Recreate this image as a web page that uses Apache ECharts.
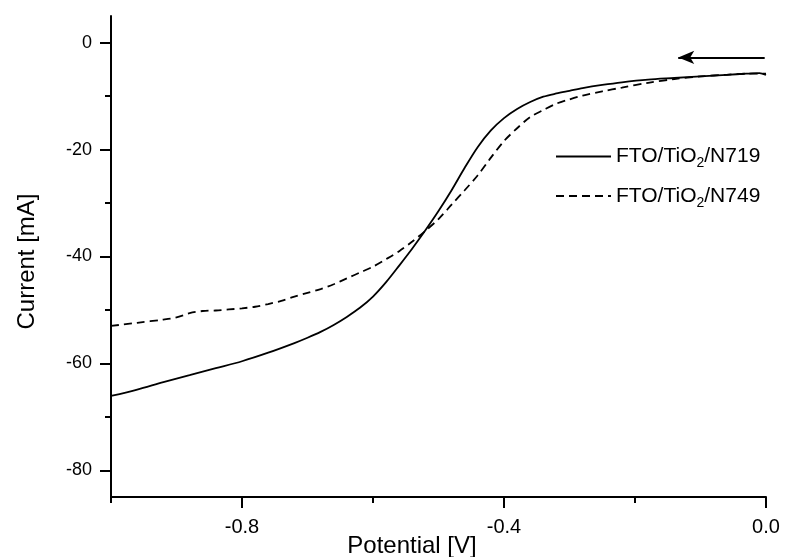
<!DOCTYPE html>
<html>
<head>
<meta charset="utf-8">
<script src="https://cdn.jsdelivr.net/npm/echarts@6/dist/echarts.min.js"></script>
<style>html,body{margin:0;padding:0;background:#fff}#c{width:786px;height:557px}</style>
</head>
<body>
<div id="c"></div>
<script>
// Potential [V] and Current [mA]
const potentialN719 = [-1.00,-0.96,-0.92,-0.88,-0.84,-0.80,-0.76,-0.72,-0.70,-0.68,-0.66,-0.64,-0.62,-0.60,-0.58,-0.56,-0.54,-0.52,-0.50,-0.48,-0.46,-0.44,-0.42,-0.40,-0.38,-0.36,-0.34,-0.32,-0.30,-0.28,-0.25,-0.22,-0.18,-0.14,-0.10,-0.06,-0.03,-0.01,0.00];
const currentN719   = [-66.1,-64.9,-63.5,-62.2,-60.9,-59.6,-58.0,-56.2,-55.2,-54.1,-52.8,-51.3,-49.6,-47.5,-44.8,-41.7,-38.5,-35.1,-31.5,-27.6,-23.4,-19.5,-16.4,-14.1,-12.4,-11.1,-10.1,-9.5,-9.0,-8.5,-7.9,-7.4,-6.9,-6.6,-6.3,-6.0,-5.8,-5.7,-6.0];
const potentialN749 = [-1.00,-0.96,-0.92,-0.90,-0.88,-0.86,-0.84,-0.82,-0.80,-0.78,-0.76,-0.74,-0.72,-0.70,-0.68,-0.66,-0.64,-0.62,-0.60,-0.58,-0.56,-0.54,-0.52,-0.50,-0.48,-0.46,-0.44,-0.42,-0.40,-0.38,-0.36,-0.34,-0.32,-0.30,-0.28,-0.25,-0.22,-0.18,-0.14,-0.10,-0.06,-0.03,0.00];
const currentN749   = [-53.0,-52.4,-51.8,-51.4,-50.6,-50.2,-50.1,-49.9,-49.7,-49.4,-48.9,-48.3,-47.5,-46.8,-46.1,-45.2,-44.1,-43.0,-41.9,-40.5,-39.0,-37.2,-35.2,-33.0,-30.3,-27.6,-24.8,-21.5,-18.4,-16.0,-13.9,-12.6,-11.4,-10.6,-9.9,-9.1,-8.4,-7.5,-6.8,-6.3,-6.0,-5.8,-5.8];
const seriesNames = ['FTO/TiO2/N719', 'FTO/TiO2/N749'];
const xMajorTicks = [-0.8, -0.4, 0.0];
const xMinorTicks = [-1.0, -0.6, -0.2];
const yMajorTicks = [0, -20, -40, -60, -80];
const yMinorTicks = [-10, -30, -50, -70];
const scanArrow = [[-0.002, -2.75], [-0.134, -2.75]]; // sweep direction annotation

const FONT = '"Liberation Sans", Arial, sans-serif';
const chart = echarts.init(document.getElementById('c'));
const pairs = (xs, ys) => xs.map((x, i) => [x, ys[i]]);
const axisLineStyle = { color: '#000', width: 2 };
const gridBox = { left: 111, right: 20, top: 16, bottom: 60, containLabel: false, outerBoundsMode: 'none' };

const option = {
  animation: false,
  backgroundColor: '#fff',
  grid: [Object.assign({}, gridBox), Object.assign({}, gridBox)],
  legend: {
    orient: 'vertical',
    left: 555, top: 146, padding: 0,
    itemWidth: 55, itemHeight: 14, itemGap: 15,
    itemStyle: { opacity: 0 },
    textStyle: {
      fontFamily: FONT, fontSize: 21, color: '#000',
      rich: { sub: { fontFamily: FONT, fontSize: 14, color: '#000', padding: [14, 0, 0, 0] } }
    },
    formatter: n => n.replace('TiO2', 'TiO{sub|2}'),
    data: seriesNames
  },
  xAxis: [{
    type: 'value', gridIndex: 0, min: -1.0, max: 0.0, position: 'bottom',
    axisLine: { show: true, onZero: false, lineStyle: axisLineStyle },
    axisTick: { show: true, customValues: xMajorTicks, length: 11, lineStyle: axisLineStyle },
    axisLabel: { customValues: xMajorTicks, formatter: v => v.toFixed(1), fontFamily: FONT, fontSize: 20, color: '#000', margin: 20 },
    splitLine: { show: false },
    name: 'Potential [V]', nameLocation: 'middle', nameGap: 37, nameMoveOverlap: false,
    nameTextStyle: { fontFamily: FONT, fontSize: 24, color: '#000', padding: [0, 53, 0, 0] }
  }, {
    type: 'value', gridIndex: 1, min: -1.0, max: 0.0, position: 'bottom',
    axisLine: { show: false, onZero: false },
    axisTick: { show: true, customValues: xMinorTicks, length: 6, lineStyle: axisLineStyle },
    axisLabel: { show: false }, splitLine: { show: false }
  }],
  yAxis: [{
    type: 'value', gridIndex: 0, min: -85, max: 5, position: 'left',
    axisLine: { show: true, onZero: false, lineStyle: axisLineStyle },
    axisTick: { show: true, customValues: yMajorTicks, length: 11, lineStyle: axisLineStyle },
    axisLabel: { customValues: yMajorTicks, fontFamily: FONT, fontSize: 18, color: '#000', margin: 19 },
    splitLine: { show: false },
    name: 'Current [mA]', nameLocation: 'middle', nameGap: 72, nameMoveOverlap: false,
    nameTextStyle: { fontFamily: FONT, fontSize: 24, color: '#000', padding: [0, 10, 0, 0] }
  }, {
    type: 'value', gridIndex: 1, min: -85, max: 5, position: 'left',
    axisLine: { show: false, onZero: false },
    axisTick: { show: true, customValues: yMinorTicks, length: 6, lineStyle: axisLineStyle },
    axisLabel: { show: false }, splitLine: { show: false }
  }],
  series: [{
    name: seriesNames[0], type: 'line', xAxisIndex: 0, yAxisIndex: 0,
    data: pairs(potentialN719, currentN719),
    showSymbol: false, symbol: 'none', smooth: 0.3,
    lineStyle: { color: '#000', width: 1.8, type: 'solid' },
    itemStyle: { color: '#000' },
    markLine: {
      silent: true, symbol: ['none', 'arrow'], symbolSize: [10, 16],
      label: { show: false },
      lineStyle: { color: '#000', width: 2, type: 'solid' },
      data: [[{ coord: scanArrow[0] }, { coord: scanArrow[1] }]]
    }
  }, {
    name: seriesNames[1], type: 'line', xAxisIndex: 0, yAxisIndex: 0,
    data: pairs(potentialN749, currentN749),
    showSymbol: false, symbol: 'none', smooth: 0.3,
    lineStyle: { color: '#000', width: 1.8, type: [8, 5] },
    itemStyle: { color: '#000' }
  }]
};
chart.setOption(option);
</script>
</body>
</html>
